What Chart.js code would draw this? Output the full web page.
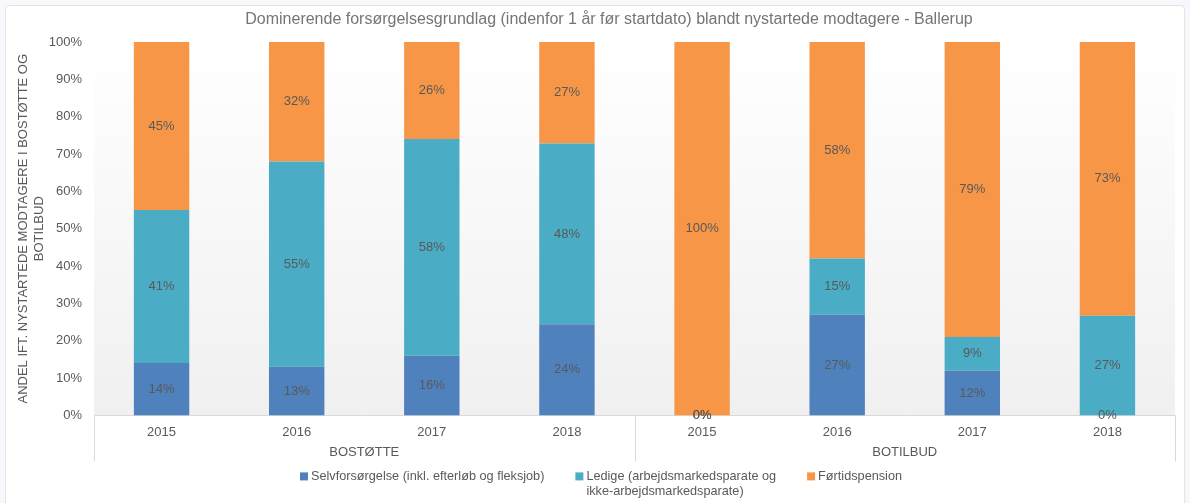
<!DOCTYPE html>
<html><head><meta charset="utf-8">
<script src="https://cdn.jsdelivr.net/npm/chart.js@4.4.0/dist/chart.umd.min.js"></script>
<style>html,body{margin:0;padding:0;background:#fff}#wrap{width:1190px;height:503px}</style>
</head><body><div id="wrap"><canvas id="c" width="1190" height="503"></canvas></div>
<script>
const titleText = 'Dominerende forsørgelsesgrundlag (indenfor 1 år før startdato) blandt nystartede modtagere - Ballerup';
const years = ['2015','2016','2017','2018','2015','2016','2017','2018'];
const groups = ['BOSTØTTE','BOTILBUD'];
const groupSizes = [4,4];
const seriesNames = ['Selvforsørgelse (inkl. efterløb og fleksjob)','Ledige (arbejdsmarkedsparate og ikke-arbejdsmarkedsparate)','Førtidspension'];
const legendLines = [['Selvforsørgelse (inkl. efterløb og fleksjob)'],['Ledige (arbejdsmarkedsparate og','ikke-arbejdsmarkedsparate)'],['Førtidspension']];
const selv   = [14, 13, 16, 24.4, 0, 27, 12, 0];
const ledige = [41, 55, 58, 48.4, 0, 15, 9, 26.7];
const fortid = [45, 32, 26, 27.2, 100, 58, 79, 73.3];
const yTickValues = [0,10,20,30,40,50,60,70,80,90,100];
const yTitle = ['ANDEL IFT. NYSTARTEDE MODTAGERE I BOSTØTTE OG','BOTILBUD'];
const colors = ['#4f81bd','#4bacc6','#f79646'];

const FONT = "'Liberation Sans', Arial, sans-serif";
const TXT = '#595959';

const custom = {
  id: 'custom',
  beforeDraw(chart) {
    const ctx = chart.ctx, a = chart.chartArea;
    ctx.save();
    ctx.fillStyle = '#f7f8fc';
    ctx.fillRect(0,0,chart.width,chart.height);
    ctx.beginPath();
    ctx.roundRect(5.5,5.5,chart.width-11,chart.height+10,4);
    ctx.fillStyle = '#ffffff';
    ctx.fill();
    ctx.strokeStyle = '#e3e3e3';
    ctx.lineWidth = 1;
    ctx.stroke();
    const g = ctx.createLinearGradient(0,a.top,0,a.bottom);
    g.addColorStop(0,'#ffffff');
    g.addColorStop(1,'#f0f0f0');
    ctx.fillStyle = g;
    ctx.fillRect(a.left,a.top,a.right-a.left,a.bottom-a.top);
    ctx.restore();
  },
  afterDatasetsDraw(chart) {
    const ctx = chart.ctx;
    ctx.save();
    ctx.font = '13px ' + FONT;
    ctx.fillStyle = TXT;
    ctx.textAlign = 'center';
    ctx.textBaseline = 'middle';
    chart.data.datasets.forEach((ds, i) => {
      const meta = chart.getDatasetMeta(i);
      meta.data.forEach((bar, j) => {
        const v = ds.data[j];
        const y = (bar.y + bar.base) / 2;
        ctx.fillText(Math.round(v) + '%', bar.x, y);
      });
    });
    ctx.restore();
  },
  afterDraw(chart) {
    const ctx = chart.ctx, a = chart.chartArea, xs = chart.scales.x;
    ctx.save();
    // title
    ctx.font = '16px ' + FONT;
    ctx.fillStyle = '#757575';
    ctx.textAlign = 'center';
    ctx.textBaseline = 'middle';
    ctx.fillText(titleText, chart.width/2 + 14, 20);
    // group separators & labels
    ctx.strokeStyle = '#d9d9d9';
    ctx.lineWidth = 1;
    let idx = 0;
    const half = (xs.getPixelForValue(1) - xs.getPixelForValue(0)) / 2;
    const sepX = [a.left];
    ctx.font = '13px ' + FONT;
    ctx.fillStyle = TXT;
    groups.forEach((g, gi) => {
      const first = xs.getPixelForValue(idx);
      const last = xs.getPixelForValue(idx + groupSizes[gi] - 1);
      ctx.fillText(g, (first + last) / 2, a.bottom + 37);
      idx += groupSizes[gi];
      sepX.push(last + half);
    });
    sepX.forEach(x => {
      const px = Math.round(x) + 0.5;
      ctx.beginPath();
      ctx.moveTo(px, a.bottom);
      ctx.lineTo(px, a.bottom + 46);
      ctx.stroke();
    });
    // legend
    ctx.font = '12.7px ' + FONT;
    ctx.textAlign = 'left';
    const box = 8, gapBox = 3, gapItem = 31;
    const widths = legendLines.map(ls => box + gapBox + Math.max(...ls.map(l => ctx.measureText(l).width)));
    const total = widths.reduce((s, w) => s + w, 0) + gapItem * (widths.length - 1);
    let x = chart.width/2 + 6 - total/2;
    const ly = a.bottom + 61;
    legendLines.forEach((ls, i) => {
      ctx.fillStyle = colors[i];
      ctx.fillRect(x, ly - 4, box, box);
      ctx.fillStyle = TXT;
      ls.forEach((l, k) => ctx.fillText(l, x + box + gapBox, ly + k * 15));
      x += widths[i] + gapItem;
    });
    ctx.restore();
  }
};

new Chart(document.getElementById('c'), {
  type: 'bar',
  data: {
    labels: years,
    datasets: [
      { label: seriesNames[0], data: selv, backgroundColor: colors[0] },
      { label: seriesNames[1], data: ledige, backgroundColor: colors[1] },
      { label: seriesNames[2], data: fortid, backgroundColor: colors[2] }
    ]
  },
  options: {
    responsive: false,
    animation: false,
    devicePixelRatio: 1,
    layout: { padding: { left: 10, right: 15, top: 42, bottom: 54 } },
    datasets: { bar: { barPercentage: 0.41, categoryPercentage: 1, borderWidth: 0 } },
    plugins: { legend: { display: false }, title: { display: false }, tooltip: { enabled: false } },
    scales: {
      x: {
        stacked: true,
        grid: { display: false, drawTicks: false },
        border: { display: true, color: '#d9d9d9' },
        ticks: { color: TXT, font: { family: FONT, size: 13 }, padding: 9, maxRotation: 0, autoSkip: false }
      },
      y: {
        stacked: true,
        min: 0, max: 100,
        afterBuildTicks: s => { s.ticks = yTickValues.map(v => ({ value: v })); },
        afterFit: s => { s.width = 84; },
        grid: { display: false, drawTicks: false },
        border: { display: false },
        ticks: { color: TXT, font: { family: FONT, size: 13 }, padding: 12, callback: v => v + '%' },
        title: { display: true, text: yTitle, color: TXT, font: { family: FONT, size: 13 }, padding: { top: 6, bottom: 0 } }
      }
    }
  },
  plugins: [custom]
});
</script>
</body></html>
